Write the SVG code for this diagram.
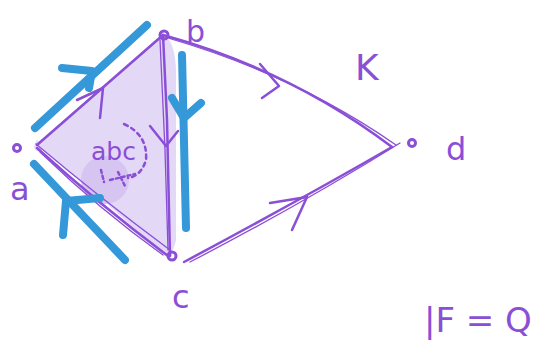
<svg xmlns="http://www.w3.org/2000/svg" width="556" height="346" viewBox="0 0 556 346">
<style>
.p{fill:none;stroke:#8a4fd6;stroke-width:2.5;stroke-linecap:round;stroke-linejoin:round}
.pt{fill:none;stroke:#8a4fd6;stroke-width:1.3;stroke-linecap:round}
.b{fill:none;stroke:#3598d8;stroke-width:8;stroke-linecap:round;stroke-linejoin:round}
.t{fill:#8a4fd6;font-family:"DejaVu Sans",sans-serif}
.dot{fill:none;stroke:#8a4fd6;stroke-width:3}
</style>
<rect width="556" height="346" fill="#ffffff"/>
<g id="face">
<path d="M37,140 Q30,150 40,152 L163,35 Q175,40 176,70 L176,240 Q172,260 160,252 Z" fill="#e4d8f7"/>
<polygon points="37,145 163,35 172,256" fill="#e4d8f7"/>
<circle cx="105" cy="180" r="24" fill="#d7c5f1"/>
</g>
<g id="connectors">
<path class="p" d="M37,145 L163,35"/>
<path class="pt" d="M40,142 L160,38"/>
<path class="p" d="M77,100 L103,88 L100,118"/>
<path class="p" d="M163,35 L167,120 L170,256"/>
<path class="pt" d="M160,40 L165,150 L168,250"/>
<path class="p" d="M150,126 L166,146 L178,131"/>
<path class="p" d="M37,148 Q100,205 168,256"/>
<path class="pt" d="M40,152 Q100,210 163,255"/>
<path class="pt" d="M36,144 Q100,198 170,250"/>
<path class="p" d="M163,35 Q290,70 392,147"/>
<path class="pt" d="M168,38 Q295,75 396,145"/>
<path class="p" d="M262,98 L279,86 L260,64"/>
<path class="p" d="M184,262 Q300,200 392,147"/>
<path class="pt" d="M190,262 Q300,205 400,143"/>
<path class="p" d="M270,203 L307,197 L292,230"/>
<path class="p" d="M124,124 Q148,135 146,160 Q141,176 128,178" stroke-dasharray="4 4" stroke-width="2"/>
<path class="p" d="M101,170 L104,182 M110,180 L135,174 M118,172 L126,188" stroke-dasharray="3 3" stroke-width="2"/>
</g>
<g id="blue-arrows">
<path class="b" d="M35,128 L147,25"/>
<path class="b" d="M62,68 L92,71 L89,88"/>
<path class="b" d="M182,55 L186,228"/>
<path class="b" d="M172,98 L184,118 L201,103"/>
<path class="b" d="M34,164 L125,260"/>
<path class="b" d="M63,235 L66,201 L100,198"/>
</g>
<g id="node-a"><circle class="dot" cx="17" cy="148" r="3.5"/><text class="t" x="10" y="200" font-size="32">a</text></g>
<g id="node-b"><circle class="dot" cx="164" cy="35" r="4"/><text class="t" x="186" y="42" font-size="30">b</text></g>
<g id="node-c"><circle class="dot" cx="172" cy="256" r="4"/><text class="t" x="172" y="308" font-size="32">c</text></g>
<g id="node-d"><circle class="dot" cx="412" cy="143" r="3.5"/><text class="t" x="446" y="160" font-size="32">d</text></g>
<text class="t" x="355" y="80" font-size="36">K</text>
<text class="t" x="91" y="160" font-size="25">abc</text>
<text class="t" x="424" y="332" font-size="34">|F = Q</text>
</svg>
